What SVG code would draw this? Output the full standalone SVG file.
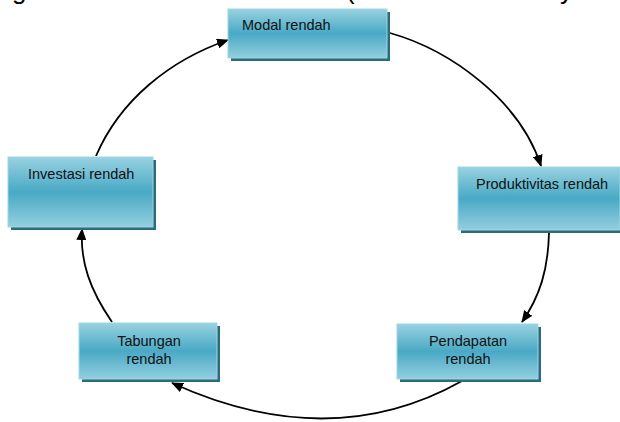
<svg xmlns="http://www.w3.org/2000/svg" width="620" height="422" viewBox="0 0 620 422">
<style>
.lbl{font-family:"Liberation Sans","DejaVu Sans",sans-serif;font-size:14.5px;fill:#111}
.cap{font-family:"Liberation Sans","DejaVu Sans",sans-serif;font-size:26px;fill:#000}
.box{fill:url(#g);stroke:#9fd6e4;stroke-width:1}
.sh{fill:#2a6b7c}
.con{fill:none;stroke:#000;stroke-width:1.8}
</style>
<defs>
<linearGradient id="g" x1="0" y1="0" x2="0" y2="1">
<stop offset="0" stop-color="#98d2e1"/>
<stop offset="0.5" stop-color="#49a9c5"/>
<stop offset="1" stop-color="#93cfdf"/>
</linearGradient>
<marker id="ah" markerUnits="userSpaceOnUse" markerWidth="12" markerHeight="10" refX="11" refY="5" orient="auto">
<path d="M0,0 L12,5 L0,10 z" fill="#000"/>
</marker>
</defs>
<text class="cap" x="12" y="-1">g</text>
<text class="cap" x="346" y="-1">(</text>
<text class="cap" x="560" y="-1">y</text>
<g id="connectors">
<path class="con" d="M390,33 C450,50 520,100 541,166" marker-end="url(#ah)"/>
<path class="con" d="M549,233 C548,270 540,296 522,322" marker-end="url(#ah)"/>
<path class="con" d="M462,381 Q330,455 172,383" marker-end="url(#ah)"/>
<path class="con" d="M112,322 C90,290 80,262 82,229" marker-end="url(#ah)"/>
<path class="con" d="M96,156 C120,100 170,60 228,40" marker-end="url(#ah)"/>
</g>
<g id="modal">
<rect class="sh" x="231" y="12" width="159" height="49"/>
<rect class="box" x="228" y="9" width="159" height="49"/>
<text class="lbl" x="242" y="30">Modal rendah</text>
</g>
<g id="produktivitas">
<rect class="sh" x="461" y="170" width="162" height="63"/>
<rect class="box" x="458" y="167" width="162" height="63"/>
<text class="lbl" x="476" y="189">Produktivitas rendah</text>
</g>
<g id="pendapatan">
<rect class="sh" x="400" y="327" width="141" height="55"/>
<rect class="box" x="397" y="324" width="141" height="55"/>
<text class="lbl" x="468" y="346" text-anchor="middle">Pendapatan</text>
<text class="lbl" x="468" y="364" text-anchor="middle">rendah</text>
</g>
<g id="tabungan">
<rect class="sh" x="82" y="326" width="138" height="56"/>
<rect class="box" x="79" y="323" width="138" height="56"/>
<text class="lbl" x="149" y="346" text-anchor="middle">Tabungan</text>
<text class="lbl" x="149" y="364" text-anchor="middle">rendah</text>
</g>
<g id="investasi">
<rect class="sh" x="11" y="160" width="145" height="70"/>
<rect class="box" x="8" y="157" width="145" height="70"/>
<text class="lbl" x="28" y="179">Investasi rendah</text>
</g>
</svg>
